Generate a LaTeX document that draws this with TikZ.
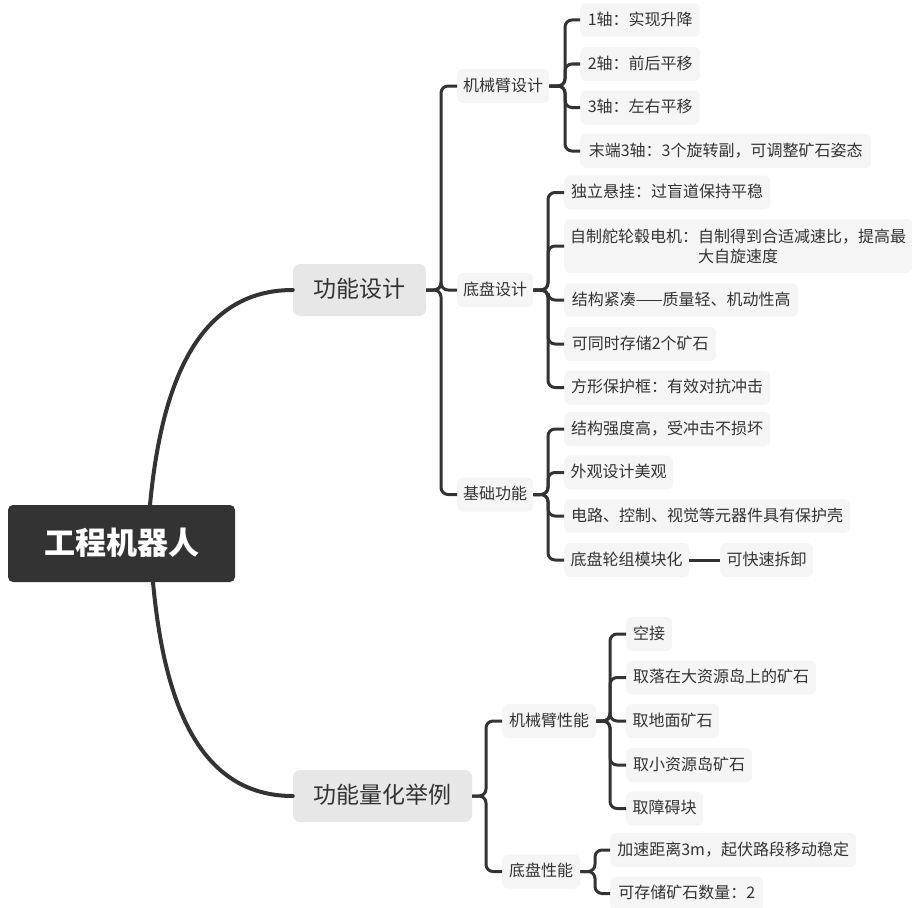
\documentclass[tikz,border=0pt]{standalone}
\usepackage{fontspec}
\newfontfamily\cjk{Noto Sans CJK SC}
\definecolor{ink}{HTML}{333333}
\definecolor{leafbg}{HTML}{F5F5F5}
\definecolor{topbg}{HTML}{E7E7E7}
\definecolor{rootbg}{HTML}{333333}
\tikzset{
  boxbase/.style={rectangle, rounded corners=6, inner xsep=0, inner ysep=0, text=ink, align=center},
  leaf/.style={boxbase, fill=leafbg, anchor=west, minimum height=34, text height=12.6pt, text depth=1.8pt, font=\cjk\fontsize{16}{20}\selectfont},
  leaftwo/.style={boxbase, fill=leafbg, anchor=west, minimum height=54, font=\cjk\fontsize{16}{20}\selectfont},
  topic/.style={boxbase, fill=topbg, rounded corners=7, minimum height=52, text height=18pt, text depth=2.5pt, font=\cjk\fontsize{23}{28}\selectfont},
  rootbox/.style={boxbase, fill=rootbg, rounded corners=5, text=white, minimum width=227, minimum height=77, text height=25pt, text depth=3.5pt, font=\cjk\bfseries\fontsize{31}{36}\selectfont},
  branch/.style={draw=ink, line width=3pt, rounded corners=7},
  trunk/.style={draw=ink, line width=4pt, line cap=round},
}
\begin{document}
\begin{tikzpicture}[x=1pt,y=-1pt]
\useasboundingbox (0,0) rectangle (912,907);

% root and main topics
\node[rootbox] (root) at (121.5,543.5) {工程机器人};
\node[topic, minimum width=133] (fd) at (359.5,290) {功能设计};
\node[topic, minimum width=179] (lh) at (382.5,796) {功能量化举例};

% level 2
\node[leaf, minimum width=92] (jxbsj) at (457,86) {机械臂设计};
\node[leaf, minimum width=76] (dpsj) at (457,290) {底盘设计};
\node[leaf, minimum width=76] (jcgn) at (457,494.5) {基础功能};
\node[leaf, minimum width=94] (jxbxn) at (502,721) {机械臂性能};
\node[leaf, minimum width=78] (dpxn) at (502,871.5) {底盘性能};

% 机械臂设计 children
\node[leaf, minimum width=120] (a1) at (580,20) {1轴：实现升降};
\node[leaf, minimum width=120] (a2) at (580,64) {2轴：前后平移};
\node[leaf, minimum width=120] (a3) at (580,107.5) {3轴：左右平移};
\node[leaf, minimum width=291] (a4) at (580,151) {末端3轴：3个旋转副，可调整矿石姿态};

% 底盘设计 children
\node[leaf, minimum width=206] (b1) at (564,192.5) {独立悬挂：过盲道保持平稳};
\node[leaftwo, minimum width=348] (b2) at (564,246) {自制舵轮毂电机：自制得到合适减速比，提高最\\大自旋速度};
\node[leaf, minimum width=234] (b3) at (564,300) {结构紧凑——质量轻、机动性高};
\node[leaf, minimum width=152] (b4) at (564,344) {可同时存储2个矿石};
\node[leaf, minimum width=206] (b5) at (564,387.5) {方形保护框：有效对抗冲击};

% 基础功能 children
\node[leaf, minimum width=206] (c1) at (564,429) {结构强度高，受冲击不损坏};
\node[leaf, minimum width=109] (c2) at (564,472.5) {外观设计美观};
\node[leaf, minimum width=286] (c3) at (564,516) {电路、控制、视觉等元器件具有保护壳};
\node[leaf, minimum width=125] (c4) at (564,560) {底盘轮组模块化};
\node[leaf, minimum width=93] (c5) at (720,560) {可快速拆卸};

% 机械臂性能 children
\node[leaf, minimum width=46] (d1) at (626,634) {空接};
\node[leaf, minimum width=190] (d2) at (626,677.5) {取落在大资源岛上的矿石};
\node[leaf, minimum width=93] (d3) at (626,721) {取地面矿石};
\node[leaf, minimum width=126] (d4) at (626,765) {取小资源岛矿石};
\node[leaf, minimum width=77] (d5) at (626,808.5) {取障碍块};

% 底盘性能 children
\node[leaf, minimum width=246] (e1) at (610,850) {加速距离3m，起伏路段移动稳定};
\node[leaf, minimum width=153] (e2) at (610,893.5) {可存储矿石数量：2};

% junction coordinates
\coordinate (jfd) at (441,290);
\coordinate (jjx) at (565,86);
\coordinate (jdp) at (548,290);
\coordinate (jjc) at (548,494.5);
\coordinate (jlh) at (486,796);
\coordinate (jxn) at (610,721);
\coordinate (jdx) at (595,871.5);

% trunk curves
\draw[trunk] ([xshift=28.5]root.north) .. controls (160,400) and (190,290) .. (fd.west);
\draw[trunk] ([xshift=31.5]root.south) .. controls (163,690) and (193,796) .. (lh.west);

% branches
\foreach \c in {jxbsj,dpsj,jcgn} \draw[branch] (fd.east) -- (jfd) |- (\c.west);
\foreach \c in {a1,a2,a3,a4} \draw[branch] (jxbsj.east) -- (jjx) |- (\c.west);
\foreach \c in {b1,b2,b3,b4,b5} \draw[branch] (dpsj.east) -- (jdp) |- (\c.west);
\foreach \c in {c1,c2,c3,c4} \draw[branch] (jcgn.east) -- (jjc) |- (\c.west);
\draw[branch] (c4.east) -- (c5.west);
\foreach \c in {jxbxn,dpxn} \draw[branch] (lh.east) -- (jlh) |- (\c.west);
\foreach \c in {d1,d2,d3,d4,d5} \draw[branch] (jxbxn.east) -- (jxn) |- (\c.west);
\foreach \c in {e1,e2} \draw[branch] (dpxn.east) -- (jdx) |- (\c.west);
\end{tikzpicture}
\end{document}
